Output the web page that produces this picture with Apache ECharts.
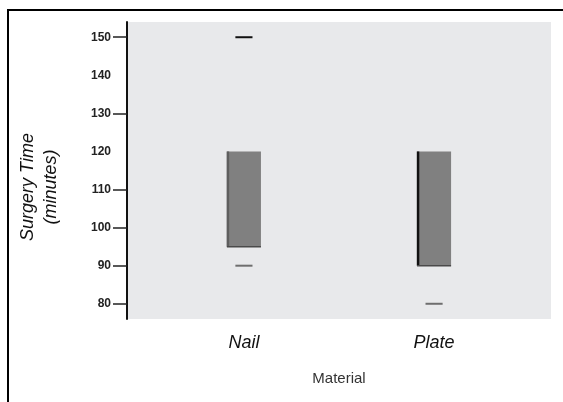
<!DOCTYPE html>
<html>
<head>
<meta charset="utf-8">
<script src="https://cdn.jsdelivr.net/npm/echarts@6/dist/echarts.min.js"></script>
<style>html,body{margin:0;padding:0;background:#fff;}#c{width:563px;height:402px;}</style>
</head>
<body>
<div id="c"></div>
<script>
var categories = ['Nail', 'Plate'];
var minValues = [90, 80];
var q1Values = [95, 90];
var q3Values = [120, 120];
var maxValues = [150, null];
var yLabelValues = [80, 90, 100, 110, 120, 130, 140, 150];
var yTickValues = [80, 90, 100, 110, 130, 150];

var data = categories.map(function (c, i) {
  return [i + 1, minValues[i], q1Values[i], q3Values[i], maxValues[i]];
});

var chart = echarts.init(document.getElementById('c'), null, {renderer: 'canvas'});
chart.setOption({
  animation: false,
  backgroundColor: '#ffffff',
  grid: {left: 127, top: 22, right: 12, bottom: 83, show: true, backgroundColor: '#e8e9eb', borderWidth: 0},
  xAxis: {
    type: 'value', min: 0.385, max: 2.615,
    axisLine: {show: false}, axisTick: {show: false}, splitLine: {show: false},
    axisLabel: {
      customValues: [1, 2],
      formatter: function (v) { return categories[Math.round(v) - 1] || ''; },
      fontFamily: 'Liberation Sans', fontStyle: 'italic', fontSize: 18, color: '#111', margin: 15
    },
    name: 'Material', nameLocation: 'middle', nameGap: 52,
    nameTextStyle: {fontFamily: 'Liberation Sans', fontSize: 15, color: '#333'}
  },
  yAxis: {
    type: 'value', min: 76, max: 154,
    axisLine: {show: true, lineStyle: {color: '#111', width: 2}},
    axisTick: {show: true, length: 14, customValues: yTickValues, lineStyle: {color: '#222', width: 1.5}},
    axisLabel: {customValues: yLabelValues, margin: 16, fontFamily: 'Liberation Sans', fontWeight: 'bold', fontSize: 12, color: '#222'},
    splitLine: {show: false}
  },
  graphic: [
    {type: 'line', shape: {x1: 7, y1: 10, x2: 563, y2: 10}, style: {stroke: '#000', lineWidth: 2}},
    {type: 'line', shape: {x1: 8, y1: 9, x2: 8, y2: 402}, style: {stroke: '#000', lineWidth: 2}},
    {type: 'text', x: 28, y: 187, rotation: Math.PI / 2,
      style: {text: 'Surgery Time', font: 'italic 18px "Liberation Sans"', fill: '#111', align: 'center', verticalAlign: 'middle'}},
    {type: 'text', x: 51, y: 187, rotation: Math.PI / 2,
      style: {text: '(minutes)', font: 'italic 18px "Liberation Sans"', fill: '#111', align: 'center', verticalAlign: 'middle'}}
  ],
  series: [{
    type: 'custom',
    data: data,
    encode: {x: 0, y: [1, 2, 3, 4]},
    renderItem: function (params, api) {
      var x = api.value(0);
      var pTop = api.coord([x, api.value(3)]);
      var pBot = api.coord([x, api.value(2)]);
      var w = api.size([0.179, 0])[0];
      var cw = api.size([0.09, 0])[0];
      var left = pTop[0] - w / 2;
      var isPlate = params.dataIndex === 1;
      var children = [
        {type: 'rect', shape: {x: left, y: pTop[1], width: w, height: pBot[1] - pTop[1]}, style: {fill: '#808080'}},
        {type: 'line', shape: {x1: left + 1, y1: pTop[1], x2: left + 1, y2: pBot[1]},
          style: {stroke: isPlate ? '#111' : '#5e5e5e', lineWidth: isPlate ? 2.5 : 2.5}},
        {type: 'line', shape: {x1: left, y1: pBot[1], x2: left + w, y2: pBot[1]},
          style: {stroke: '#4a4a4a', lineWidth: 1.5}}
      ];
      var mn = api.value(1);
      if (mn != null && !isNaN(mn)) {
        var pm = api.coord([x, mn]);
        children.push({type: 'line', shape: {x1: pm[0] - cw / 2, y1: pm[1], x2: pm[0] + cw / 2, y2: pm[1]},
          style: {stroke: '#6e6e6e', lineWidth: 2}});
      }
      var mx = api.value(4);
      if (mx != null && !isNaN(mx)) {
        var px = api.coord([x, mx]);
        children.push({type: 'line', shape: {x1: px[0] - cw / 2, y1: px[1], x2: px[0] + cw / 2, y2: px[1]},
          style: {stroke: '#111', lineWidth: 2}});
      }
      return {type: 'group', children: children};
    }
  }]
});
</script>
</body>
</html>
